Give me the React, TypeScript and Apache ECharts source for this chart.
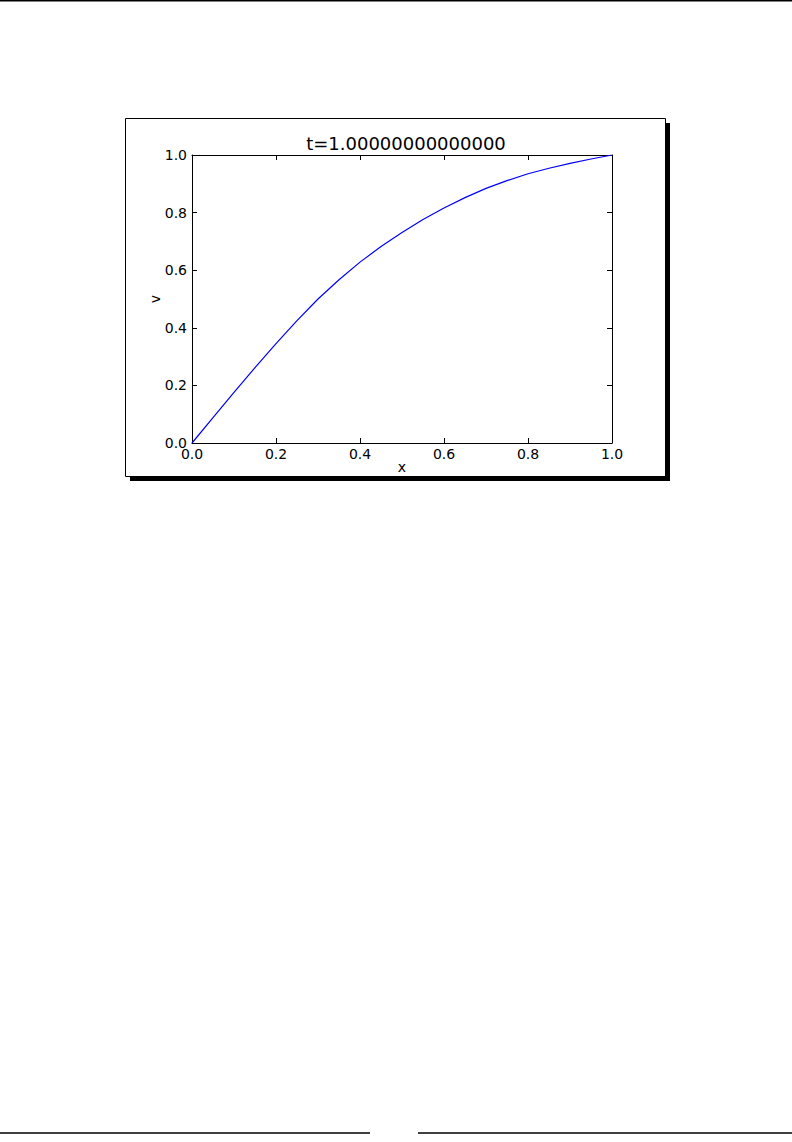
import React, { useEffect, useRef } from "react";
import * as echarts from "echarts";

const xValues = [0, 0.05, 0.1, 0.15, 0.2, 0.25, 0.3, 0.35, 0.4, 0.45, 0.5, 0.55, 0.6, 0.65, 0.7, 0.75, 0.8, 0.85, 0.9, 0.95, 1.0];
const vValues = [0, 0.088, 0.176, 0.262, 0.345, 0.425, 0.5, 0.567, 0.628, 0.682, 0.731, 0.776, 0.816, 0.852, 0.884, 0.911, 0.935, 0.954, 0.971, 0.986, 1.0];
const titleText = "t=1.00000000000000";
const xName = "x";
const yName = "v";

const FONT = "DejaVu Sans";

export default function App() {
  const ref = useRef<HTMLDivElement>(null);
  useEffect(() => {
    if (!ref.current) return;
    const chart = echarts.init(ref.current, null, { renderer: "svg" });
    const data = xValues.map((x, i) => [x, vValues[i]]);
    const axisCommon = {
      type: "value" as const,
      min: 0,
      max: 1,
      interval: 0.2,
      splitLine: { show: false },
      axisLine: { show: true, onZero: false, lineStyle: { color: "#000", width: 1 } },
      axisTick: { show: true, inside: true, length: 5, lineStyle: { color: "#000", width: 1 } },
    };
    chart.setOption({
      animation: false,
      backgroundColor: "#fff",
      title: {
        text: titleText,
        left: 401,
        top: 129,
        textAlign: "center",
        textStyle: { fontFamily: FONT, fontSize: 18, fontWeight: "normal", color: "#000" },
      },
      grid: { left: 192, top: 155, width: 420, height: 288, containLabel: false },
      xAxis: [
        {
          ...axisCommon,
          position: "bottom",
          name: xName,
          nameLocation: "middle",
          nameGap: 17,
          nameMoveOverlap: false,
          nameTextStyle: { fontFamily: FONT, fontSize: 14, color: "#000" },
          axisLabel: {
            fontFamily: FONT,
            fontSize: 14,
            color: "#000",
            margin: 4,
            formatter: (v: number) => v.toFixed(1),
          },
        },
        {
          ...axisCommon,
          position: "top",
          axisLabel: { show: false },
        },
      ],
      yAxis: [
        {
          ...axisCommon,
          position: "left",
          name: yName,
          nameLocation: "middle",
          nameGap: 30,
          nameMoveOverlap: false,
          nameRotate: 90,
          nameTextStyle: { fontFamily: FONT, fontSize: 14, color: "#000" },
          axisLabel: {
            fontFamily: FONT,
            fontSize: 14,
            color: "#000",
            margin: 5,
            formatter: (v: number) => v.toFixed(1),
          },
        },
        {
          ...axisCommon,
          position: "right",
          axisLabel: { show: false },
        },
      ],
      series: [
        {
          type: "line",
          xAxisIndex: 0,
          yAxisIndex: 0,
          data,
          showSymbol: false,
          symbol: "none",
          lineStyle: { color: "#0000ff", width: 1.2 },
          z: 3,
        },
      ],
      graphic: [
        { type: "line", shape: { x1: 0, y1: 0.75, x2: 792, y2: 0.75 }, style: { stroke: "#000", lineWidth: 1.5 }, z: -10 },
        { type: "rect", shape: { x: 130, y: 123, width: 540, height: 358 }, style: { fill: "#000" }, z: -10 },
        { type: "rect", shape: { x: 125.5, y: 118.5, width: 540, height: 358 }, style: { fill: "#fff", stroke: "#000", lineWidth: 1 }, z: -9 },
        { type: "line", shape: { x1: 0, y1: 1133, x2: 370, y2: 1133 }, style: { stroke: "#000", lineWidth: 1.5 }, z: -10 },
        { type: "line", shape: { x1: 418, y1: 1133, x2: 792, y2: 1133 }, style: { stroke: "#000", lineWidth: 1.5 }, z: -10 },
      ],
    });
    return () => chart.dispose();
  }, []);
  return (
    <div
      ref={ref}
      style={{ position: "absolute", left: 0, top: 0, width: 792, height: 1142 }}
    />
  );
}
